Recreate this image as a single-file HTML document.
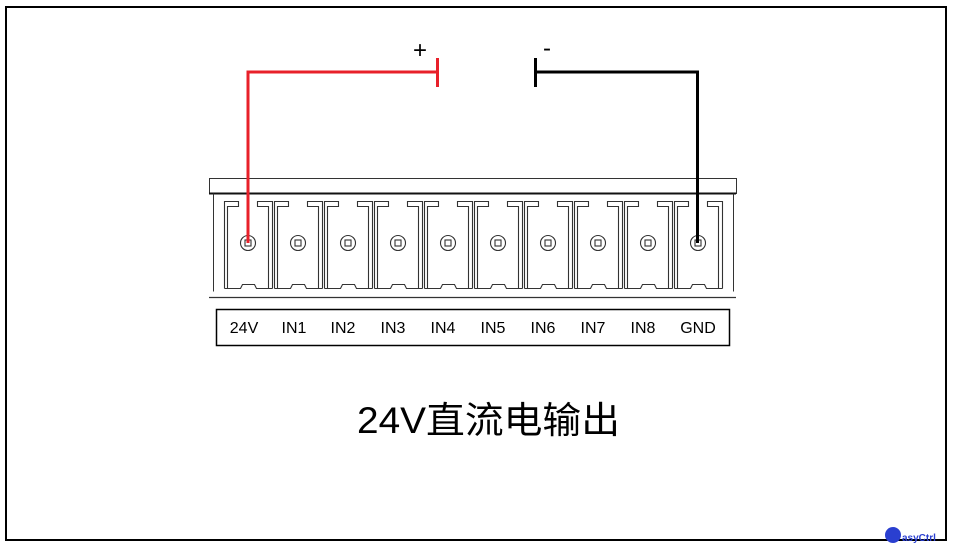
<!DOCTYPE html>
<html><head><meta charset="utf-8"><style>
html,body{margin:0;padding:0;background:#fff;}
svg{display:block}
</style></head><body>
<svg width="953" height="545" viewBox="0 0 953 545" xmlns="http://www.w3.org/2000/svg">
<rect x="0" y="0" width="953" height="545" fill="#fff"/>
<rect x="6" y="7" width="940" height="533" fill="none" stroke="#000" stroke-width="2"/>
<!-- header bar -->
<rect x="209.5" y="178.5" width="527" height="15" fill="#fff" stroke="#333" stroke-width="1"/>
<line x1="209" y1="193.5" x2="736" y2="193.5" stroke="#111" stroke-width="2"/>
<!-- body -->
<path d="M213.5 193.5 V291.5 M733.5 193.5 V291.5" stroke="#333" stroke-width="1" fill="none"/>
<line x1="209" y1="297.5" x2="736" y2="297.5" stroke="#333" stroke-width="1.2"/>
<g fill="none" stroke="#333" stroke-width="1.1">
<g id="cell">
<path d="M224.5 288.5 V201.5 H238.5 V206.5 H227.5 V288.5"/>
<path d="M272.5 288.5 V201.5 H257.5 V206.5 H268.5 V288.5"/>
<path d="M224.5 288.5 H240.5 L242.5 284.5 H254.5 L256.5 288.5 H272.5"/>
<circle cx="248" cy="243" r="7.5"/>
<rect x="245" y="240" width="6" height="6"/>
</g>
<use href="#cell" x="50"/><use href="#cell" x="100"/><use href="#cell" x="150"/><use href="#cell" x="200"/>
<use href="#cell" x="250"/><use href="#cell" x="300"/><use href="#cell" x="350"/><use href="#cell" x="400"/><use href="#cell" x="450"/>
</g>
<!-- label box -->
<rect x="216.5" y="309.5" width="513" height="36" fill="none" stroke="#000" stroke-width="1.5"/>
<g font-family="Liberation Sans, sans-serif" font-size="16" fill="#000" text-anchor="middle">
<text x="244" y="333">24V</text><text x="294" y="333">IN1</text><text x="343" y="333">IN2</text>
<text x="393" y="333">IN3</text><text x="443" y="333">IN4</text><text x="493" y="333">IN5</text>
<text x="543" y="333">IN6</text><text x="593" y="333">IN7</text><text x="643" y="333">IN8</text>
<text x="698" y="333">GND</text>
</g>
<!-- wires -->
<path d="M248 243 V72 H437" fill="none" stroke="#e8202a" stroke-width="3"/>
<line x1="437.5" y1="58" x2="437.5" y2="87" stroke="#e8202a" stroke-width="3"/>
<path d="M535 72 H697.5 V243" fill="none" stroke="#000" stroke-width="3"/>
<line x1="535.5" y1="58" x2="535.5" y2="87" stroke="#000" stroke-width="3"/>
<g font-family="Liberation Sans, sans-serif" font-size="24" fill="#000" text-anchor="middle">
<text x="420" y="58">+</text>
<text x="547" y="56">-</text>
</g>
<text x="357" y="433" font-family="Liberation Sans, 'Noto Sans CJK SC', sans-serif" font-size="37" textLength="263" lengthAdjust="spacingAndGlyphs" fill="#000">24V直流电输出</text>
<!-- logo -->
<circle cx="893" cy="535" r="8" fill="#2a3fd0"/>
<text x="902" y="541" font-family="Liberation Sans, sans-serif" font-size="10" font-weight="bold" fill="#2a3fd0">asyCtrl</text>
</svg>
</body></html>
